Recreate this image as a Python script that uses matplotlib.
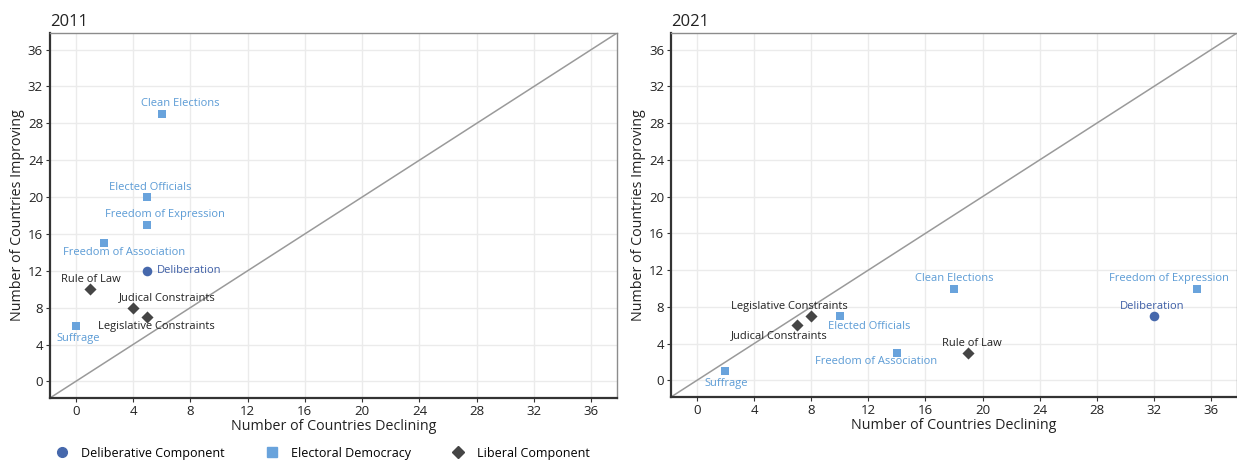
import matplotlib.pyplot as plt
from matplotlib.lines import Line2D

plt.rcParams['font.family'] = ['Open Sans', 'DejaVu Sans']

# data
names = ['Clean Elections', 'Elected Officials', 'Freedom of Expression',
         'Freedom of Association', 'Suffrage', 'Deliberation',
         'Rule of Law', 'Judical Constraints', 'Legislative Constraints']
groups = ['Electoral Democracy'] * 5 + ['Deliberative Component'] + ['Liberal Component'] * 3

declining_2011 = [6, 5, 5, 2, 0, 5, 1, 4, 5]
improving_2011 = [29, 20, 17, 15, 6, 12, 10, 8, 7]

declining_2021 = [18, 10, 35, 14, 2, 32, 19, 7, 8]
improving_2021 = [10, 7, 10, 3, 1, 7, 3, 6, 7]

# label offsets in pixels (dx, dy), one per indicator
offsets_2011 = [(19, 11), (3, 10), (18, 10), (20, -9), (2, -12), (42, 0),
                (1, 10), (34, 10), (9, -10)]
offsets_2021 = [(0, 10), (29, -10), (-28, 10), (-21, -9), (1, -12), (-2, 10),
                (4, 9), (-18, -10), (-22, 10)]

styles = {
    'Deliberative Component': dict(marker='o', color='#4668ac', size=48),
    'Electoral Democracy': dict(marker='s', color='#69a3dc', size=40),
    'Liberal Component': dict(marker='D', color='#454545', size=38),
}
text_colors = {
    'Deliberative Component': '#3d5ea6',
    'Electoral Democracy': '#5b9bd5',
    'Liberal Component': '#222222',
}

fig = plt.figure(figsize=(12.37, 4.61), dpi=100)
ax1 = fig.add_axes([0.0404, 0.1367, 0.4584, 0.7917])
ax2 = fig.add_axes([0.5425, 0.1389, 0.4575, 0.7895])

panels = [(ax1, '2011', declining_2011, improving_2011, offsets_2011),
          (ax2, '2021', declining_2021, improving_2021, offsets_2021)]

for ax, year, xs, ys, offs in panels:
    ax.set_xlim(-1.8, 37.8)
    ax.set_ylim(-1.8, 37.8)
    ax.set_xticks(range(0, 37, 4))
    ax.set_yticks(range(0, 37, 4))
    ax.grid(True, color='#ebebeb', linewidth=1)
    ax.set_axisbelow(True)
    ax.plot([-1.8, 37.8], [-1.8, 37.8], color='#9a9a9a', linewidth=1.1, zorder=2)
    for side in ['top', 'right']:
        ax.spines[side].set_color('#8c8c8c')
        ax.spines[side].set_linewidth(1.0)
    for side in ['left', 'bottom']:
        ax.spines[side].set_color('#333333')
        ax.spines[side].set_linewidth(1.6)
    ax.tick_params(axis='both', labelsize=9.5, colors='#333333', length=3, width=0.8,
                   pad=2, labelcolor='#222222')
    ax.set_xlabel('Number of Countries Declining', fontsize=10.3, color='#222222', labelpad=1)
    ax.set_ylabel('Number of Countries Improving', fontsize=10.3, color='#222222', labelpad=2)
    ax.set_title(year, loc='left', fontsize=12, color='#222222', pad=5)

    for name, grp, x, y, (dx, dy) in zip(names, groups, xs, ys, offs):
        st = styles[grp]
        ax.scatter([x], [y], marker=st['marker'], color=st['color'], s=st['size'],
                   zorder=4, linewidths=0)
        ax.annotate(name, (x, y), xytext=(dx, dy), textcoords='offset pixels',
                    ha='center', va='center', fontsize=8, color=text_colors[grp], zorder=5)

handles = [Line2D([], [], linestyle='none', marker=styles[g]['marker'],
                  color=styles[g]['color'], markersize=7 if g != 'Liberal Component' else 6)
           for g in ['Deliberative Component', 'Electoral Democracy', 'Liberal Component']]
fig.legend(handles, ['Deliberative Component', 'Electoral Democracy', 'Liberal Component'],
           loc='center left', bbox_to_anchor=(0.035, 0.017), ncol=3, frameon=False,
           fontsize=9, handletextpad=0.9, columnspacing=3.2, handlelength=1.2)

fig.savefig('out.png', dpi=100)
